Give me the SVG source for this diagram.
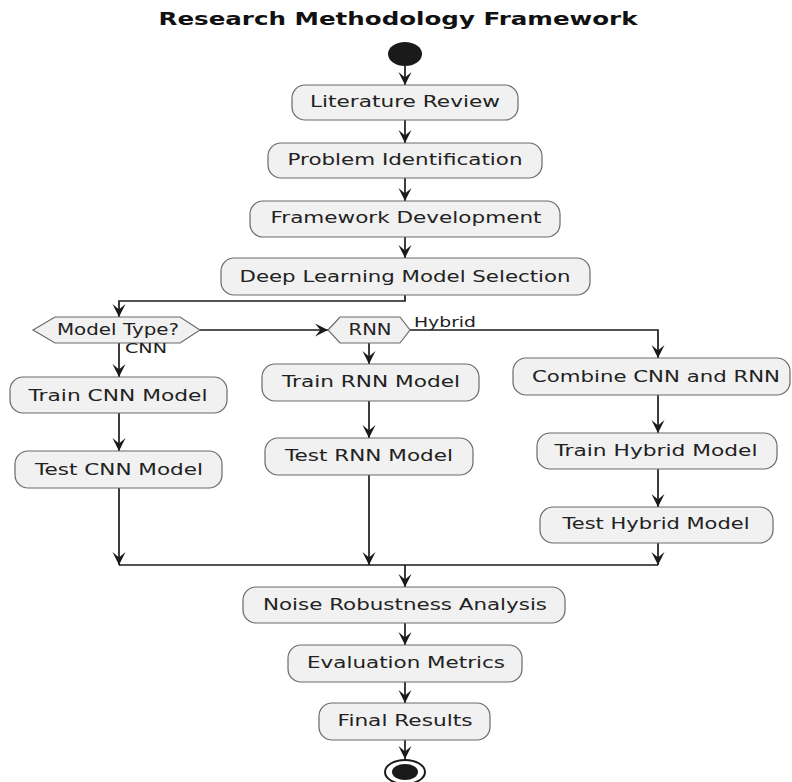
<svg xmlns="http://www.w3.org/2000/svg" width="792" height="782" viewBox="0 0 792 782">
<style>
.box{fill:#f1f1f1;stroke:#6a6a6a;stroke-width:1.2}
.t{font-family:"DejaVu Sans",sans-serif;font-size:15px;fill:#222;text-anchor:middle}
.lbl{font-family:"DejaVu Sans",sans-serif;font-size:14px;fill:#222}
.title{font-family:"DejaVu Sans",sans-serif;font-size:18px;font-weight:bold;fill:#111;text-anchor:middle}
.c{fill:none;stroke:#1a1a1a;stroke-width:1.7}
</style>
<defs>
<marker id="ah" viewBox="0 0 12 12" refX="12" refY="6" markerWidth="13" markerHeight="14" markerUnits="userSpaceOnUse" orient="auto">
<path d="M0,0 L12,6 L0,12 L5,6 Z" fill="#1a1a1a"/>
</marker>
</defs>
<rect width="792" height="782" fill="#fff"/>
<text class="title" x="398" y="25" textLength="479" lengthAdjust="spacingAndGlyphs">Research Methodology Framework</text>

<g id="connectors">
<path class="c" d="M405,66 V85" marker-end="url(#ah)"/>
<path class="c" d="M405,120 V143" marker-end="url(#ah)"/>
<path class="c" d="M405,178 V201" marker-end="url(#ah)"/>
<path class="c" d="M405,237 V258" marker-end="url(#ah)"/>
<path class="c" d="M405,295 V301 H119 V317" marker-end="url(#ah)"/>
<path class="c" d="M200,330 H328" marker-end="url(#ah)"/>
<path class="c" d="M119,343 V377" marker-end="url(#ah)"/>
<path class="c" d="M369,343 V364" marker-end="url(#ah)"/>
<path class="c" d="M410,330 H658 V358" marker-end="url(#ah)"/>
<path class="c" d="M119,413 V451" marker-end="url(#ah)"/>
<path class="c" d="M369,401 V438" marker-end="url(#ah)"/>
<path class="c" d="M658,395 V433" marker-end="url(#ah)"/>
<path class="c" d="M658,469 V507" marker-end="url(#ah)"/>
<path class="c" d="M119,488 V565" marker-end="url(#ah)"/>
<path class="c" d="M369,475 V565" marker-end="url(#ah)"/>
<path class="c" d="M658,543 V565" marker-end="url(#ah)"/>
<path class="c" d="M119,565 H658"/>
<path class="c" d="M405,565 V587" marker-end="url(#ah)"/>
<path class="c" d="M405,623 V645" marker-end="url(#ah)"/>
<path class="c" d="M405,682 V703" marker-end="url(#ah)"/>
<path class="c" d="M405,740 V759" marker-end="url(#ah)"/>
</g>

<g id="start"><ellipse cx="405" cy="54" rx="17" ry="12" fill="#1a1a1a"/></g>

<g id="literature-review"><rect class="box" x="292" y="85" width="226" height="35" rx="13"/><text class="t" x="405" y="107" textLength="190" lengthAdjust="spacingAndGlyphs">Literature Review</text></g>
<g id="problem-identification"><rect class="box" x="268" y="143" width="274" height="35" rx="13"/><text class="t" x="405" y="165" textLength="235" lengthAdjust="spacingAndGlyphs">Problem Identification</text></g>
<g id="framework-development"><rect class="box" x="250" y="201" width="310" height="36" rx="13"/><text class="t" x="406" y="223" textLength="271" lengthAdjust="spacingAndGlyphs">Framework Development</text></g>
<g id="dl-model-selection"><rect class="box" x="221" y="258" width="369" height="37" rx="13"/><text class="t" x="405" y="282" textLength="331" lengthAdjust="spacingAndGlyphs">Deep Learning Model Selection</text></g>

<g id="model-type"><polygon class="box" points="33,330 55,317 180,317 200,330 180,343 55,343"/><text class="t" x="118" y="335" textLength="122" lengthAdjust="spacingAndGlyphs">Model Type?</text></g>
<g id="rnn-decision"><polygon class="box" points="328,330 340,317 400,317 410,330 400,343 340,343"/><text class="t" x="370" y="335" textLength="43" lengthAdjust="spacingAndGlyphs">RNN</text></g>
<g id="labels">
<text class="lbl" x="125" y="353" textLength="42" lengthAdjust="spacingAndGlyphs">CNN</text>
<text class="lbl" x="414" y="327" textLength="62" lengthAdjust="spacingAndGlyphs">Hybrid</text>
</g>

<g id="train-cnn"><rect class="box" x="10" y="377" width="217" height="36" rx="13"/><text class="t" x="118" y="401" textLength="179" lengthAdjust="spacingAndGlyphs">Train CNN Model</text></g>
<g id="test-cnn"><rect class="box" x="15" y="451" width="207" height="37" rx="13"/><text class="t" x="119" y="475" textLength="168" lengthAdjust="spacingAndGlyphs">Test CNN Model</text></g>
<g id="train-rnn"><rect class="box" x="262" y="364" width="217" height="37" rx="13"/><text class="t" x="371" y="387" textLength="178" lengthAdjust="spacingAndGlyphs">Train RNN Model</text></g>
<g id="test-rnn"><rect class="box" x="265" y="438" width="208" height="37" rx="13"/><text class="t" x="369" y="461" textLength="168" lengthAdjust="spacingAndGlyphs">Test RNN Model</text></g>
<g id="combine"><rect class="box" x="513" y="358" width="277" height="37" rx="13"/><text class="t" x="656" y="382" textLength="248" lengthAdjust="spacingAndGlyphs">Combine CNN and RNN</text></g>
<g id="train-hybrid"><rect class="box" x="537" y="433" width="240" height="36" rx="13"/><text class="t" x="656" y="456" textLength="203" lengthAdjust="spacingAndGlyphs">Train Hybrid Model</text></g>
<g id="test-hybrid"><rect class="box" x="540" y="507" width="233" height="36" rx="13"/><text class="t" x="656" y="529" textLength="187" lengthAdjust="spacingAndGlyphs">Test Hybrid Model</text></g>

<g id="noise-robustness"><rect class="box" x="243" y="587" width="322" height="36" rx="13"/><text class="t" x="405" y="610" textLength="284" lengthAdjust="spacingAndGlyphs">Noise Robustness Analysis</text></g>
<g id="evaluation-metrics"><rect class="box" x="288" y="645" width="234" height="37" rx="13"/><text class="t" x="406" y="668" textLength="198" lengthAdjust="spacingAndGlyphs">Evaluation Metrics</text></g>
<g id="final-results"><rect class="box" x="319" y="703" width="171" height="37" rx="13"/><text class="t" x="405" y="726" textLength="135" lengthAdjust="spacingAndGlyphs">Final Results</text></g>

<g id="end"><ellipse cx="405" cy="772" rx="20" ry="12" fill="#fff" stroke="#1a1a1a" stroke-width="2"/><ellipse cx="405" cy="772" rx="13" ry="8" fill="#1a1a1a"/></g>
</svg>
